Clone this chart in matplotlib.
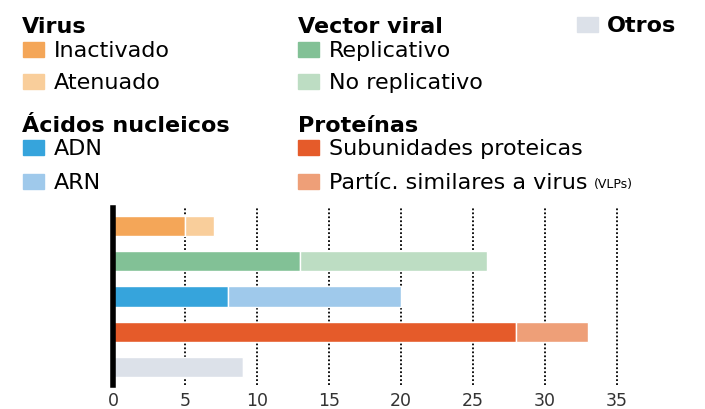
import matplotlib.pyplot as plt
from matplotlib.patches import Rectangle

# data
groups = ["Virus", "Vector viral", "Ácidos nucleicos", "Proteínas", "Otros"]
first_labels = ["Inactivado", "Replicativo", "ADN", "Subunidades proteicas", "Otros"]
second_labels = ["Atenuado", "No replicativo", "ARN", "Partíc. similares a virus", None]
first_vals = [5, 13, 8, 28, 9]
second_vals = [2, 13, 12, 5, 0]
first_colors = ["#F4A658", "#82C196", "#36A4DC", "#E55B2A", "#DCE1E9"]
second_colors = ["#F9CE9B", "#BDDDC3", "#9FC9EB", "#EE9F78", "#DCE1E9"]
xticks = [0, 5, 10, 15, 20, 25, 30, 35]

plt.rcParams['font.family'] = ['DejaVu Sans']

W, H = 705, 409
fig = plt.figure(figsize=(W / 100, H / 100), dpi=100)
ax = fig.add_axes([113 / W, 1 - 385 / H, (617 - 113) / W, 177 / H])

ypos = list(range(len(groups)))
ax.barh(ypos, first_vals, height=0.57, color=first_colors, edgecolor="white", linewidth=1)
ax.barh(ypos, second_vals, left=first_vals, height=0.57, color=second_colors,
        edgecolor="white", linewidth=1)

for t in xticks[1:]:
    ax.axvline(t, color="black", linestyle=(0, (1, 1.2)), linewidth=1.3, zorder=0, clip_on=False)

ax.set_xlim(0, 35)
ax.set_ylim(len(groups) - 0.5, -0.5)
ax.set_yticks([])
ax.set_xticks(xticks)
ax.set_xticklabels([str(t) for t in xticks], fontsize=12.5, color="#333333")
ax.tick_params(axis="x", length=0, pad=5)
for s in ["top", "right", "bottom"]:
    ax.spines[s].set_visible(False)
ax.spines["left"].set_linewidth(4)
ax.spines["left"].set_color("black")


# legend built as text, positions in pixels from top-left
def fx(px):
    return px / W


def fy(py):
    return 1 - py / H


def header(x, base, s):
    fig.text(fx(x), fy(base), s, fontsize=16, fontweight="bold", va="baseline", ha="left")


def patch(x, base, color, w=21):
    fig.patches.append(Rectangle((fx(x), fy(base)), w / W, 15 / H,
                                 transform=fig.transFigure, color=color))


def item(x, base, color, s, extra=None):
    patch(x, base, color)
    t = fig.text(fx(x + 31), fy(base), s, fontsize=16, va="baseline", ha="left")
    if extra:
        fig.canvas.draw()
        bb = t.get_window_extent()
        fig.text(bb.x1 / W + 6 / W, fy(base - 1), extra, fontsize=9, va="baseline", ha="left")


header(22, 33, groups[0])
item(23, 57, first_colors[0], first_labels[0])
item(23, 89, second_colors[0], second_labels[0])
header(22, 132, groups[2])
item(23, 155, first_colors[2], first_labels[2])
item(23, 189, second_colors[2], second_labels[2])

header(298, 33, groups[1])
item(298, 57, first_colors[1], first_labels[1])
item(298, 89, second_colors[1], second_labels[1])
header(298, 132, groups[3])
item(298, 155, first_colors[3], first_labels[3])
item(298, 189, second_colors[3], second_labels[3], "(VLPs)")

patch(577, 32, first_colors[4])
header(607, 32, groups[4])

fig.savefig("out.png", dpi=100)
